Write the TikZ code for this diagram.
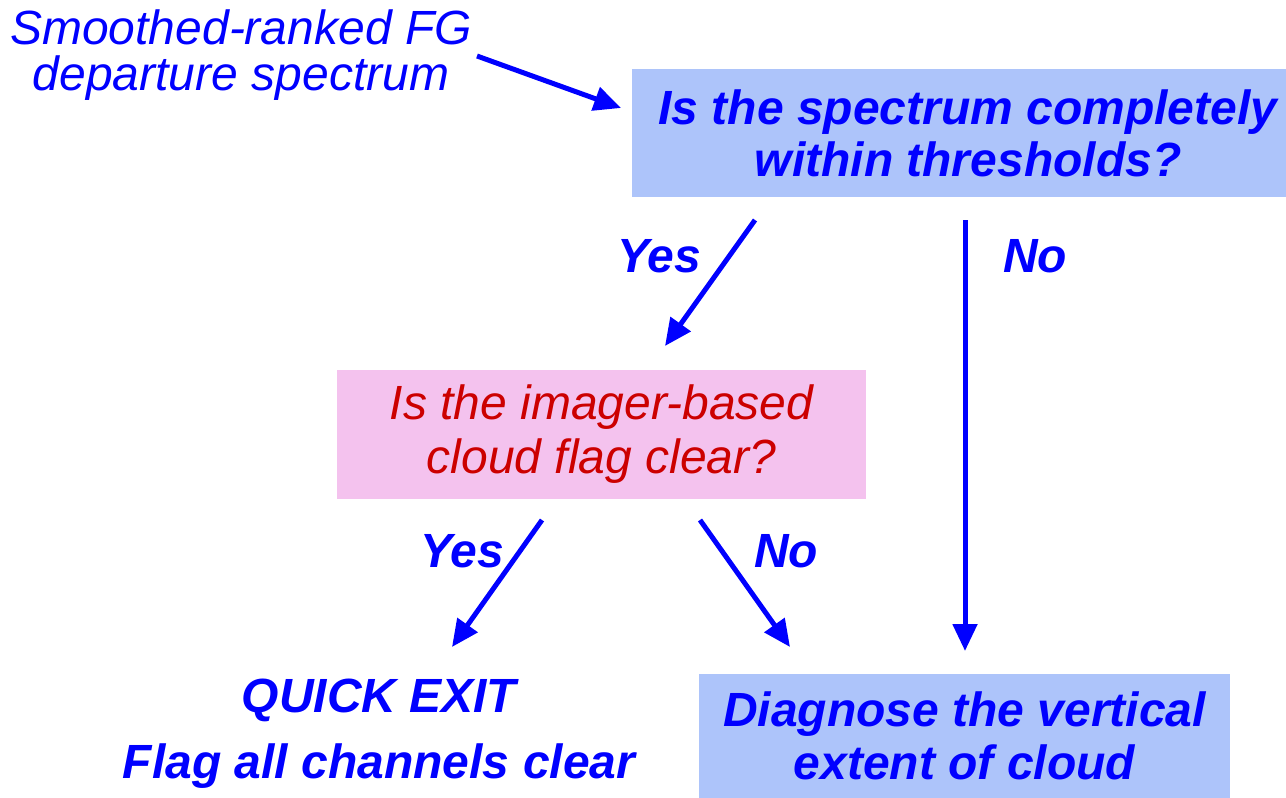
\documentclass[tikz,border=0pt]{standalone}
\usepackage{fontspec}
\setmainfont{Liberation Sans}
\usetikzlibrary{arrows.meta}
\definecolor{boxblue}{RGB}{173,196,250}
\definecolor{boxpink}{RGB}{244,194,238}
\definecolor{askred}{RGB}{204,0,0}
\begin{document}
\begin{tikzpicture}[x=1pt, y=-1pt,
  flow/.style={-{Triangle[length=27pt, width=24pt]}, line width=5pt, draw=blue},
  txt/.style={font=\fontsize{48}{#1}\selectfont\itshape, align=center, text=blue, inner sep=0pt},
  ask/.style={font=\fontsize{48}{#1}\selectfont\bfseries\itshape, align=center, text=blue, inner sep=0pt},
  lbl/.style={font=\fontsize{48}{52}\selectfont\bfseries\itshape, text=blue, inner sep=0pt}]
\useasboundingbox (0,0) rectangle (1286,798);
\node[txt=46] (S) at (241,55) {Smoothed-ranked FG\\departure spectrum};
\node[ask=52, fill=boxblue, minimum width=672pt, minimum height=128pt] (Q1) at (968,133) {Is the spectrum completely\\within thresholds?};
\node[txt=54, text=askred, fill=boxpink, minimum width=529pt, minimum height=129pt] (Q2) at (601.5,434.5) {Is the imager-based\\cloud flag clear?};
\node[ask=66] (X) at (379,733.5) {QUICK EXIT\\Flag all channels clear};
\node[ask=53, fill=boxblue, minimum width=531pt, minimum height=124pt] (D) at (964.5,736) {Diagnose the vertical\\extent of cloud};
\node[lbl] (Y1) at (659,256) {Yes};
\node[lbl] (N1) at (1035,256) {No};
\node[lbl] (Y2) at (462,551) {Yes};
\node[lbl] (N2) at (786,551) {No};
\coordinate (s0) at (477,56); \coordinate (e0) at (621,108);
\coordinate (s1) at (755,220); \coordinate (e1) at (665,346);
\coordinate (s2) at (965,220); \coordinate (e2) at (965,651);
\coordinate (s3) at (542,520); \coordinate (e3) at (452,647);
\coordinate (s4) at (700,520); \coordinate (e4) at (790,647);
\draw[flow] (s0) -- (e0);
\draw[flow] (s1) -- (e1);
\draw[flow] (s2) -- (e2);
\draw[flow] (s3) -- (e3);
\draw[flow] (s4) -- (e4);
\end{tikzpicture}
\end{document}
